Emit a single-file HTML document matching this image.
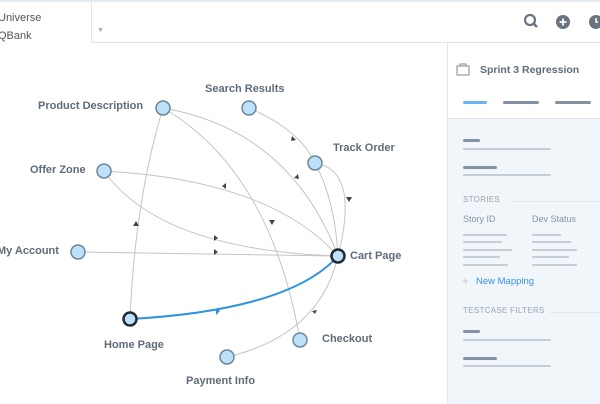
<!DOCTYPE html>
<html><head><style>
body{margin:0;width:600px;height:403px;overflow:hidden;background:#fff;font-family:"Liberation Sans",sans-serif;position:relative}
.a{position:absolute}
.t{position:absolute;color:#5f6b7a;font-size:11px;font-weight:bold;white-space:nowrap}
.bar{position:absolute;height:3px;border-radius:2px}
.d{background:#8391a2}.l{background:#c6ccd3}
.h{position:absolute;font-size:8px;color:#9aa3ad;letter-spacing:.3px}
</style></head><body>
<div class="a" style="left:0;top:0;width:600px;height:2px;background:#e3eaf0"></div>
<div class="a" style="left:91px;top:2px;width:1px;height:40px;background:#dfe5ea"></div>
<div class="a" style="left:91px;top:42px;width:509px;height:1px;background:#dfe5ea"></div>
<div class="a" style="left:-2px;top:9px;font-size:11px;color:#555;line-height:18px">Universe<br>QBank</div>
<div class="a" style="left:97px;top:27px;font-size:7px;color:#aaa">▼</div>
<svg class="a" style="left:520px;top:12px" width="80" height="20">
<circle cx="10" cy="8" r="5" fill="none" stroke="#6a7480" stroke-width="2.2"/><line x1="14" y1="12" x2="17" y2="15" stroke="#6a7480" stroke-width="2.5"/>
<circle cx="43" cy="10" r="7" fill="#6a7480"/><path d="M43 6.5v7M39.5 10h7" stroke="#fff" stroke-width="1.8"/>
<circle cx="76" cy="10" r="7" fill="#6a7480"/><path d="M76 6v4h2" stroke="#fff" stroke-width="1.5" fill="none"/>
</svg>
<!-- panel -->
<div class="a" style="left:447px;top:43px;width:153px;height:360px;background:#fff;border-left:1px solid #dfe5ea"></div>
<div class="a" style="left:448px;top:118px;width:152px;height:285px;background:#f1f6fa;border-top:1px solid #dfe5ea"></div>
<svg class="a" style="left:456px;top:63px" width="16" height="14"><rect x="1" y="3" width="12" height="9" fill="none" stroke="#888" stroke-width="1"/><rect x="4" y="1" width="6" height="2" fill="none" stroke="#888"/></svg>
<div class="a" style="left:480px;top:64px;font-size:10.5px;font-weight:bold;color:#5f6b7a">Sprint 3 Regression</div>
<div class="bar" style="left:463px;top:101px;width:24px;background:#6ab2f0"></div>
<div class="bar d" style="left:503px;top:101px;width:36px"></div>
<div class="bar d" style="left:555px;top:101px;width:36px"></div>
<div class="bar d" style="left:463px;top:139px;width:17px"></div>
<div class="bar l" style="left:463px;top:148px;width:88px;height:2px"></div>
<div class="bar d" style="left:463px;top:166px;width:34px"></div>
<div class="bar l" style="left:463px;top:174px;width:88px;height:2px"></div>
<div class="h" style="left:463px;top:195px">STORIES</div>
<div class="a" style="left:511px;top:201px;width:89px;height:1px;background:#e0e6ec"></div>
<div class="a" style="left:463px;top:214px;font-size:9px;color:#8a949e">Story ID</div>
<div class="a" style="left:532px;top:214px;font-size:9px;color:#8a949e">Dev Status</div>
<div class="bar l" style="left:463px;top:234px;width:44px;height:2px"></div>
<div class="bar l" style="left:463px;top:241px;width:39px;height:2px"></div>
<div class="bar l" style="left:463px;top:249px;width:49px;height:2px"></div>
<div class="bar l" style="left:463px;top:256px;width:37px;height:2px"></div>
<div class="bar l" style="left:463px;top:264px;width:45px;height:2px"></div>
<div class="bar l" style="left:532px;top:234px;width:29px;height:2px"></div>
<div class="bar l" style="left:532px;top:241px;width:39px;height:2px"></div>
<div class="bar l" style="left:532px;top:249px;width:45px;height:2px"></div>
<div class="bar l" style="left:532px;top:256px;width:37px;height:2px"></div>
<div class="bar l" style="left:532px;top:264px;width:45px;height:2px"></div>
<div class="a" style="left:462px;top:274px;font-size:12px;color:#c0c6cc">+</div>
<div class="a" style="left:476px;top:276px;font-size:9.5px;color:#3a92dc">New Mapping</div>
<div class="h" style="left:463px;top:306px">TESTCASE FILTERS</div>
<div class="a" style="left:550px;top:312px;width:50px;height:1px;background:#e0e6ec"></div>
<div class="bar d" style="left:463px;top:330px;width:17px"></div>
<div class="bar l" style="left:463px;top:339px;width:88px;height:2px"></div>
<div class="bar d" style="left:463px;top:357px;width:34px"></div>
<div class="bar l" style="left:463px;top:365px;width:88px;height:2px"></div>
<!-- graph -->
<svg class="a" style="left:0;top:0" width="447" height="403">
<g fill="none" stroke="#c4c4c4" stroke-width="1">
<path d="M163 108 Q135 200 130 319"/>
<path d="M163 108 Q290 130 338 256"/>
<path d="M163 108 Q270 170 300 340"/>
<path d="M249 108 Q300 130 315 163"/>
<path d="M315 163 Q335 200 338 256"/>
<path d="M315 163 Q360 170 338 256"/>
<path d="M104 171 Q270 180 338 256"/>
<path d="M104 171 Q160 250 338 256"/>
<path d="M78 252 L338 256"/>
<path d="M227 357 Q320 335 338 256"/>
</g>
<path d="M130 319 Q290 310 338 256" fill="none" stroke="#2e93dc" stroke-width="2"/>
<g fill="#444">
<path d="M136 221 l-3 5 h6z"/>
<path d="M298 174 l-4 4 5 1z"/>
<path d="M272 225 l-3 -5 h6z"/>
<path d="M296 140 l-4 -4 -1 5z"/>
<path d="M349 202 l-3 -5 h6z"/>
<path d="M222 186 l4 -3 v6z"/>
<path d="M218 238 l-4 -3 v6z"/>
<path d="M218 252 l-4 -3 v6z"/>
<path d="M317 310 l-5 1 3 3z"/>
</g>
<path d="M220 311 l-4 -3 v7z" fill="#2e93dc"/>
<g fill="#bde0fb" stroke="#6d8699" stroke-width="1.5">
<circle cx="163" cy="108" r="7"/><circle cx="249" cy="108" r="7"/><circle cx="315" cy="163" r="7"/>
<circle cx="104" cy="171" r="7"/><circle cx="78" cy="252" r="7"/><circle cx="300" cy="340" r="7"/><circle cx="227" cy="357" r="7"/>
</g>
<g fill="#bde0fb" stroke="#1f2a33" stroke-width="2.5">
<circle cx="338" cy="256" r="6.5"/><circle cx="130" cy="319" r="6.5"/>
</g>
</svg>
<div class="t" style="left:38px;top:100px">Product Description</div>
<div class="t" style="left:205px;top:83px">Search Results</div>
<div class="t" style="left:333px;top:142px">Track Order</div>
<div class="t" style="left:30px;top:164px">Offer Zone</div>
<div class="t" style="left:-3px;top:245px">My Account</div>
<div class="t" style="left:350px;top:250px">Cart Page</div>
<div class="t" style="left:104px;top:339px">Home Page</div>
<div class="t" style="left:322px;top:333px">Checkout</div>
<div class="t" style="left:186px;top:375px">Payment Info</div>
</body></html>
